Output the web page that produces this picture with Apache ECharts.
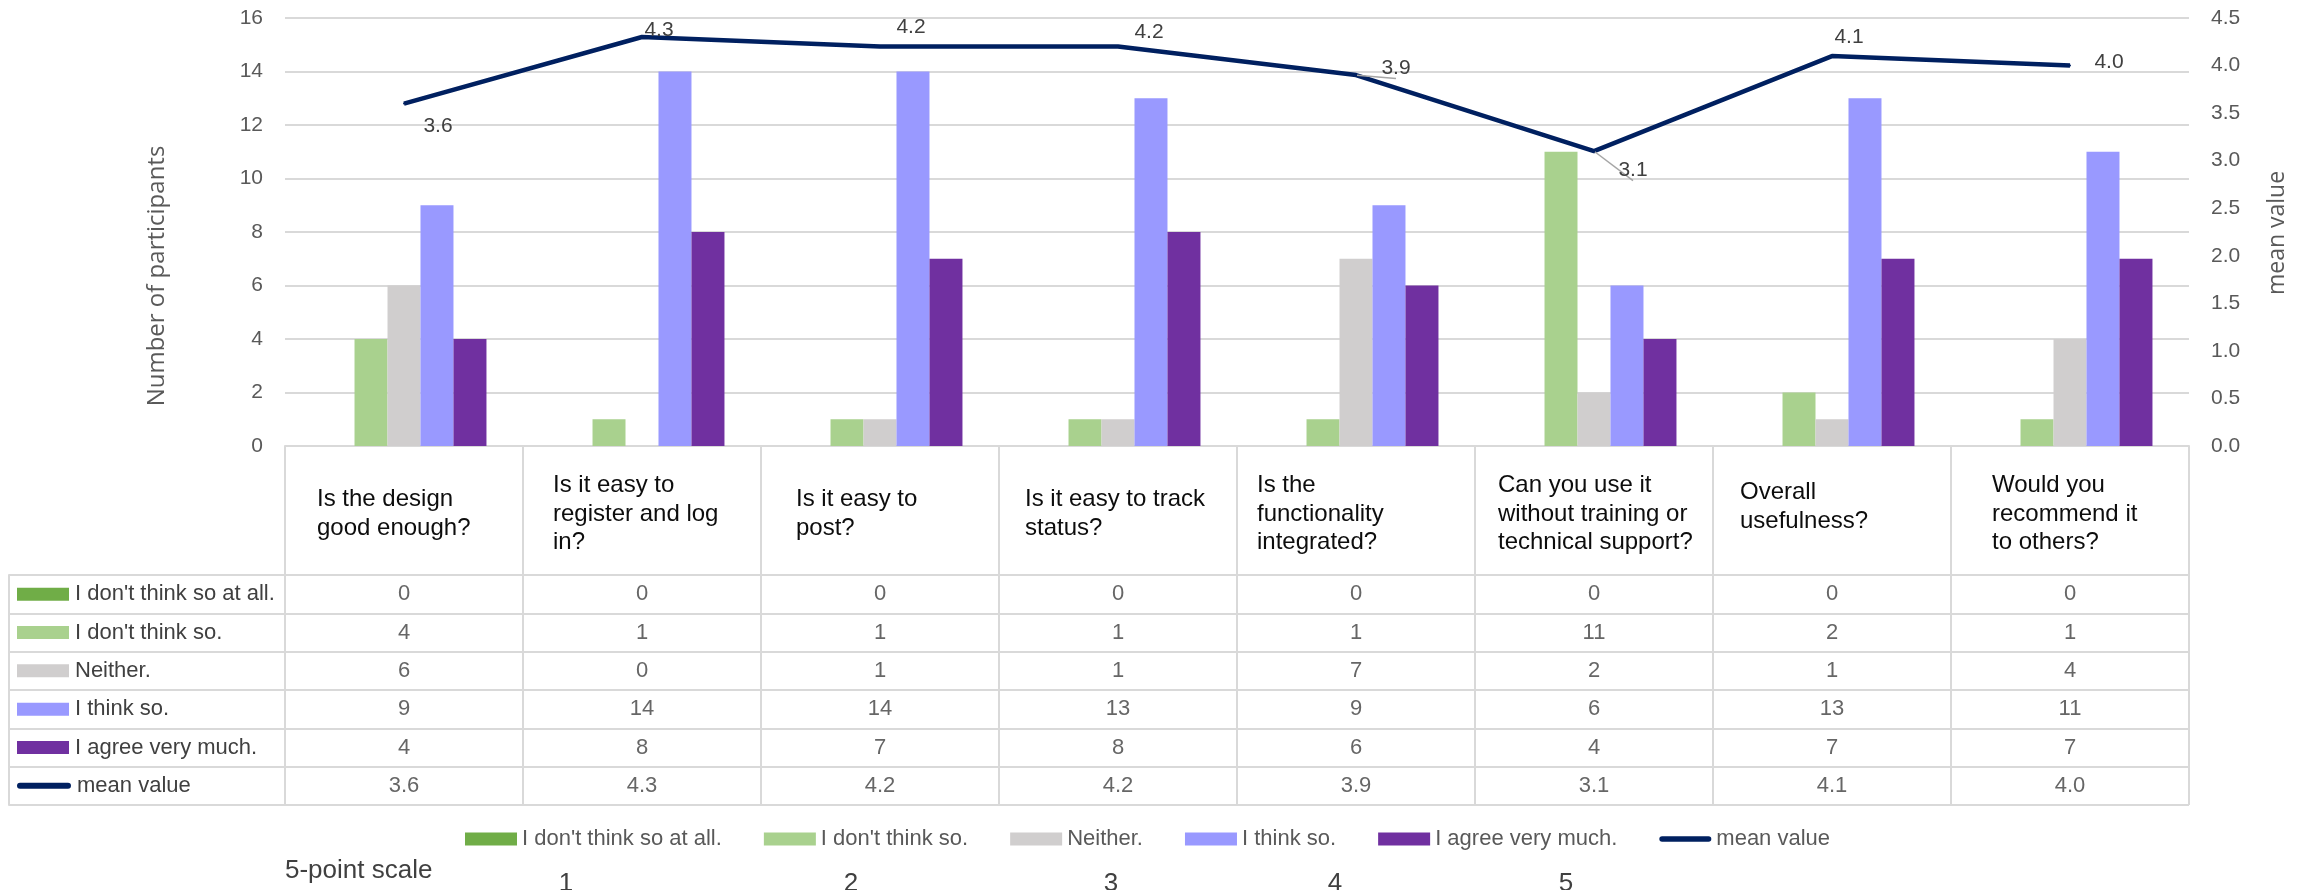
<!DOCTYPE html>
<html>
<head>
<meta charset="utf-8">
<script src="https://cdn.jsdelivr.net/npm/echarts@6/dist/echarts.min.js"></script>
<style>
  html, body { margin: 0; padding: 0; background: #ffffff; }
  #chart { width: 2305px; height: 890px; }
</style>
</head>
<body>
<div id="chart"></div>
<script>
// Survey questions (line breaks as laid out in the table header)
const categories = [
  'Is the design\ngood enough?',
  'Is it easy to\nregister and log\nin?',
  'Is it easy to\npost?',
  'Is it easy to track\nstatus?',
  'Is the\nfunctionality\nintegrated?',
  'Can you use it\nwithout training or\ntechnical support?',
  'Overall\nusefulness?',
  'Would you\nrecommend it\nto others?'
];

// Answer counts per question, one array per answer option
const notAtAll   = [0, 0, 0, 0, 0, 0, 0, 0];
const dontThink  = [4, 1, 1, 1, 1, 11, 2, 1];
const neither    = [6, 0, 1, 1, 7, 2, 1, 4];
const thinkSo    = [9, 14, 14, 13, 9, 6, 13, 11];
const agreeMuch  = [4, 8, 7, 8, 6, 4, 7, 7];

// Mean score per question
const meanValue  = [3.6, 4.3, 4.2, 4.2, 3.9, 3.1, 4.1, 4.0];

// Axis ticks
const leftTicks  = { min: 0, max: 16, interval: 2 };
const rightTicks = { min: 0, max: 4.5, interval: 0.5 };

// Scale caption under the legend
const scaleNumbers = ['1', '2', '3', '4', '5'];

const barNames = ["I don't think so at all.", "I don't think so.", 'Neither.', 'I think so.', 'I agree very much.'];
const barData = [notAtAll, dontThink, neither, thinkSo, agreeMuch];
const barColors = ['#70AD47', '#A9D18E', '#D0CECE', '#9999FF', '#7030A0'];
const lineName = 'mean value';
const lineColor = '#002060';
const rowNames = barNames.concat([lineName]);

// Label placement (pixel offsets from each mean point)
const meanLabelOffsets = [[34, 23], [17, -7], [31, -19], [31, -14], [40, -7], [39, 19], [17, -19], [39, -3]];
const meanLabelLeader = [false, false, false, false, true, true, false, false];

// Header cell layout: left inset of the text block and extra lift, in px
const COL_W = 238;
const headerInset = [32, 30, 35, 26, 20, 23, 27, 41];
const headerLift  = [0, 0, 0, 0, 0, 0, 7, 0];

const FONT = '"Liberation Sans", Arial, sans-serif';
const GRID_LINE = { color: '#D9D9D9', width: 2 };

const chart = echarts.init(document.getElementById('chart'), null, { renderer: 'canvas' });

// Table cells: one point per (question, row)
const cellData = [];
rowNames.forEach((rn, r) => {
  const src = r < barData.length ? barData[r] : meanValue;
  categories.forEach((c, ci) => {
    const v = src[ci];
    cellData.push([ci, r, v, r < barData.length ? String(v) : v.toFixed(1)]);
  });
});

// Rich styles for table row keys
const keyRich = {
  t: { fontFamily: FONT, fontSize: 22, color: '#404040', padding: [0, 0, 0, 6] }
};
barColors.forEach((col, i) => {
  keyRich['k' + i] = { backgroundColor: col, width: 52, height: 13 };
});
keyRich['k' + barColors.length] = { backgroundColor: lineColor, width: 54, height: 6, borderRadius: 3 };

// Rich styles for the header cells: fixed-width blocks with left-aligned lines
const headerRich = { gap: { height: 1, lineHeight: 1 } };
headerInset.forEach((ins, i) => {
  headerRich['h' + i] = {
    align: 'left',
    width: COL_W - 2 * ins,
    fontFamily: FONT,
    fontSize: 24,
    lineHeight: 28.5,
    color: '#0D0D0D'
  };
  headerRich['lift' + i] = { height: headerLift[i] * 2, lineHeight: headerLift[i] * 2 };
});

const series = barNames.map((name, i) => ({
  name,
  type: 'bar',
  xAxisIndex: 0,
  yAxisIndex: 0,
  data: barData[i],
  itemStyle: { color: barColors[i] },
  barGap: '0%',
  barCategoryGap: '30.7%',
  silent: true
}));

series.push({
  name: lineName,
  type: 'line',
  xAxisIndex: 0,
  yAxisIndex: 1,
  z: 5,
  symbol: 'circle',
  symbolSize: 2,
  itemStyle: { color: lineColor },
  lineStyle: { color: lineColor, width: 4.5 },
  labelLine: { show: false },
  data: meanValue.map((v, i) => ({
    value: v,
    label: {
      show: true,
      position: 'inside',
      offset: meanLabelOffsets[i],
      formatter: (p) => p.value.toFixed(1),
      fontFamily: FONT,
      fontSize: 21,
      color: '#404040'
    },
    labelLine: { show: meanLabelLeader[i], lineStyle: { color: '#A6A6A6', width: 1.5 } }
  })),
  silent: true
});

series.push({
  name: 'table',
  type: 'scatter',
  xAxisIndex: 1,
  yAxisIndex: 2,
  symbol: 'rect',
  symbolSize: 1,
  itemStyle: { color: 'rgba(0,0,0,0)' },
  label: {
    show: true,
    position: 'inside',
    formatter: (p) => p.value[3],
    fontFamily: FONT,
    fontSize: 22,
    color: '#404040'
  },
  data: cellData,
  silent: true
});

const option = {
  backgroundColor: '#ffffff',
  animation: false,
  textStyle: { fontFamily: FONT },
  grid: [
    { left: 285, right: 116, top: 18, bottom: 444, containLabel: false },
    { left: 285, right: 116, top: 575, bottom: 85, containLabel: false }
  ],
  legend: {
    data: barNames.map(n => ({ name: n, icon: 'rect' })).concat([{
      name: lineName,
      icon: 'path://M3,0 L53,0 A3,3 0 0 1 53,6 L3,6 A3,3 0 0 1 3,0 Z'
    }]),
    left: 460,
    top: 823,
    itemWidth: 52,
    itemHeight: 13,
    itemGap: 42,
    selectedMode: false,
    textStyle: { fontFamily: FONT, fontSize: 22, color: '#595959' }
  },
  xAxis: [
    {
      type: 'category',
      gridIndex: 0,
      data: categories,
      axisLine: { lineStyle: GRID_LINE },
      axisTick: { show: true, length: 129, interval: 0, lineStyle: GRID_LINE },
      axisLabel: {
        interval: 0,
        margin: 68,
        verticalAlign: 'middle',
        formatter: (v, i) => {
          let s = v.split('\n').map(line => '{h' + i + '|' + line + '}').join('\n');
          if (headerLift[i]) s += '\n{lift' + i + '|}';
          return s;
        },
        rich: headerRich
      },
      splitLine: { show: false }
    },
    {
      type: 'category',
      gridIndex: 1,
      data: categories,
      axisLine: { show: false },
      axisTick: { show: false },
      axisLabel: { show: false },
      splitLine: { show: true, interval: 0, lineStyle: GRID_LINE }
    }
  ],
  yAxis: [
    {
      type: 'value',
      gridIndex: 0,
      min: leftTicks.min,
      max: leftTicks.max,
      interval: leftTicks.interval,
      axisLine: { show: false },
      axisTick: { show: false },
      axisLabel: { margin: 22, fontFamily: FONT, fontSize: 21, color: '#595959' },
      splitLine: { lineStyle: GRID_LINE }
    },
    {
      type: 'value',
      gridIndex: 0,
      position: 'right',
      min: rightTicks.min,
      max: rightTicks.max,
      interval: rightTicks.interval,
      axisLine: { show: false },
      axisTick: { show: false },
      axisLabel: { margin: 22, fontFamily: FONT, fontSize: 21, color: '#595959', formatter: (v) => v.toFixed(1) },
      splitLine: { show: false }
    },
    {
      type: 'category',
      gridIndex: 1,
      inverse: true,
      data: rowNames,
      axisLine: { show: false },
      axisTick: { show: true, length: 276, interval: 0, lineStyle: GRID_LINE },
      axisLabel: {
        interval: 0,
        align: 'left',
        margin: 268,
        formatter: (v, i) => '{k' + i + '|}{t|' + v + '}',
        rich: keyRich
      },
      splitLine: { show: true, interval: 0, lineStyle: GRID_LINE }
    },
    {
      type: 'category',
      gridIndex: 1,
      position: 'left',
      offset: 276,
      data: rowNames,
      axisLine: { show: true, lineStyle: GRID_LINE },
      axisTick: { show: false },
      axisLabel: { show: false },
      splitLine: { show: false }
    }
  ],
  graphic: [
    {
      type: 'text',
      x: 157, y: 276,
      rotation: Math.PI / 2,
      style: {
        text: 'Number of participants',
        fontFamily: '"Open Sans", sans-serif',
        fontSize: 24,
        fill: '#595959',
        textAlign: 'center',
        textVerticalAlign: 'middle'
      },
      silent: true
    },
    {
      type: 'text',
      x: 2277, y: 233,
      rotation: Math.PI / 2,
      style: {
        text: 'mean value',
        fontFamily: '"Open Sans", sans-serif',
        fontSize: 23,
        fill: '#595959',
        textAlign: 'center',
        textVerticalAlign: 'middle'
      },
      silent: true
    },
    {
      type: 'text',
      x: 285, y: 871,
      style: {
        text: '5-point scale',
        fontFamily: FONT,
        fontSize: 26,
        fill: '#404040',
        textAlign: 'left',
        textVerticalAlign: 'middle'
      },
      silent: true
    }
  ].concat(scaleNumbers.map((n, i) => ({
    type: 'text',
    x: [566, 851, 1111, 1335, 1566][i],
    y: 884,
    style: {
      text: n,
      fontFamily: FONT,
      fontSize: 26,
      fill: '#404040',
      textAlign: 'center',
      textVerticalAlign: 'middle'
    },
    silent: true
  }))),
  series
};

chart.setOption(option);
</script>
</body>
</html>
